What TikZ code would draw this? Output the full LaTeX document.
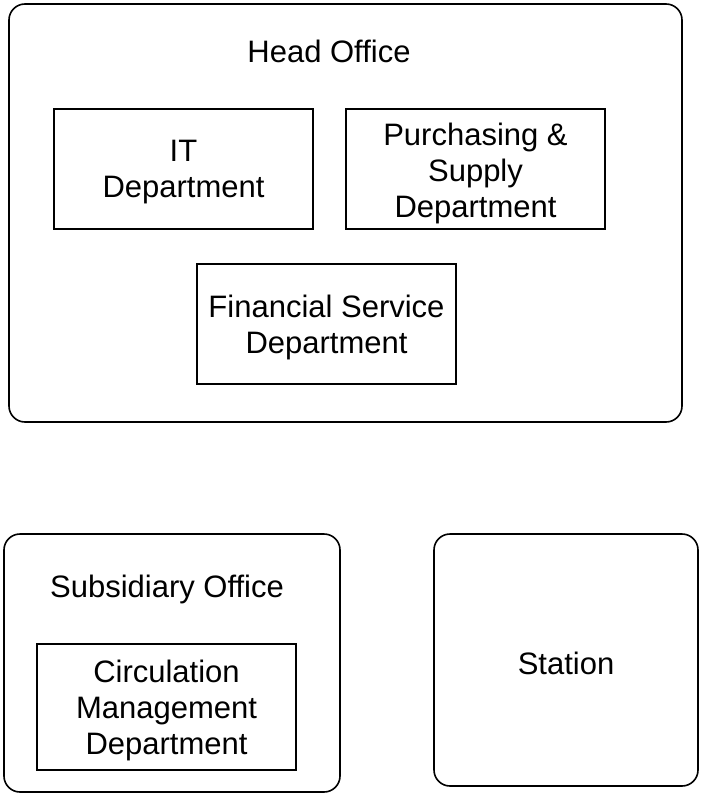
\documentclass[tikz,border=0pt]{standalone}
\usepackage{fontspec}
\setmainfont{Liberation Sans}
\begin{document}
\begin{tikzpicture}[x=1pt,y=-1pt,
  grp/.style={draw=black,line width=1.6pt,rounded corners=16pt},
  dept/.style={draw=black,line width=1.4pt,inner sep=0pt},
  lbl/.style={font=\fontsize{31}{36}\selectfont,align=center,inner sep=0pt}]
\useasboundingbox (0,0) rectangle (703,797);
\draw[grp] (9,4) rectangle (682,422);
\node[lbl] (ho) at (329,51) {Head Office};
\draw[dept] (54,109) rectangle (313,229);
\node[lbl] (it) at (183.5,172) {IT\\Department};
\draw[dept] (346,109) rectangle (605,229);
\node[lbl] (ps) at (475.5,173) {Purchasing \&\\Supply\\Department};
\draw[dept] (197,264) rectangle (456,384);
\node[lbl] (fs) at (326.5,327) {Financial Service\\Department};
\draw[grp] (4,534) rectangle (340,792);
\node[lbl] (so) at (167,589) {Subsidiary Office};
\draw[dept] (37,644) rectangle (296,770);
\node[lbl] (cm) at (166.5,710) {Circulation\\Management\\Department};
\draw[grp] (434,534) rectangle (698,786);
\node[lbl] (st) at (566,663) {Station};
\end{tikzpicture}
\end{document}
